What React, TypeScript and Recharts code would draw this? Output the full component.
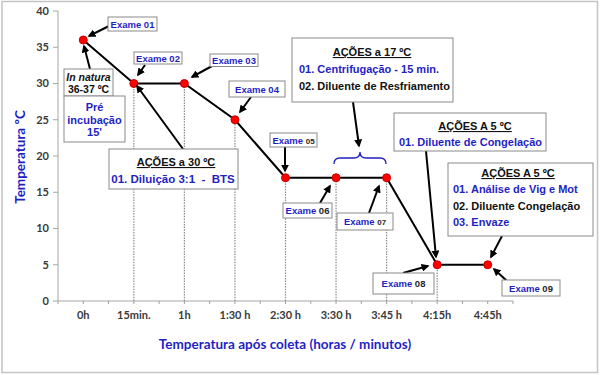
import React from "react";
import { LineChart, Line, XAxis, YAxis, ReferenceLine } from "recharts";

const categories = ["0h", "15min.", "1h", "1:30 h", "2:30 h", "3:30 h", "3:45 h", "4:15h", "4:45h"];
const temperatures = [36, 30, 30, 25, 17, 17, 17, 5, 5];
const yTicks = [0, 5, 10, 15, 20, 25, 30, 35, 40];
const dropLineCategories = ["15min.", "1h", "1:30 h", "2:30 h", "3:30 h", "3:45 h", "4:15h"];

const data = categories.map((c, i) => ({ label: c, temp: temperatures[i] }));

const BLUE = "#1f1fc4";
const DARK = "#262626";
const BOXF = "'Liberation Sans', Arial, sans-serif";
const CAL = "Lato, 'Open Sans', sans-serif";
const X_TICK_SIZE = 3;
const X_TICK_MARGIN = 7;

const XTick = (props: any) => {
  const { x, y, payload, index, width } = props;
  const w = typeof width === "number" && width > 0 ? width : 455;
  const half = w / categories.length / 2;
  const axisY = y - X_TICK_MARGIN - X_TICK_SIZE;
  return (
    <g>
      <line x1={x - half} x2={x - half} y1={axisY} y2={axisY + X_TICK_SIZE} stroke="#a0a0a0" />
      {index === categories.length - 1 && (
        <line x1={x + half} x2={x + half} y1={axisY} y2={axisY + X_TICK_SIZE} stroke="#a0a0a0" />
      )}
      <text x={x} y={y} dy="0.75em" textAnchor="middle" fontFamily={CAL} fontWeight={700} fontSize={11} fill="#3a3a3a">
        {payload.value}
      </text>
    </g>
  );
};

const Box = ({ x, y, w, h }: { x: number; y: number; w: number; h: number }) => (
  <rect x={x} y={y} width={w} height={h} fill="#fff" stroke="#8a8a8a" strokeWidth={1} />
);

const Arrow = ({ x1, y1, x2, y2 }: { x1: number; y1: number; x2: number; y2: number }) => (
  <line x1={x1} y1={y1} x2={x2} y2={y2} stroke="#000" strokeWidth={2} markerEnd="url(#ah)" />
);

const Exame = ({ x, y, w, h, num, numBlue, small }: any) => (
  <g>
    <Box x={x} y={y} w={w} h={h} />
    <text x={x + w / 2} y={y + h / 2 + 3.5} textAnchor="middle" fontFamily={BOXF} fontWeight={700} fontSize={9.5} fill={BLUE}>
      Exame{" "}
      <tspan fill={numBlue ? BLUE : DARK} fontSize={small ? 8 : 9.5}>{num}</tspan>
    </text>
  </g>
);

const T = ({ x, y, children, fill = BLUE, anchor = "start", size = 11, underline = false, italic = false }: any) => (
  <text
    x={x}
    y={y}
    textAnchor={anchor}
    fontFamily={BOXF}
    fontWeight={700}
    fontSize={size}
    fill={fill}
    fontStyle={italic ? "italic" : "normal"}
    style={underline ? { textDecoration: "underline" } : undefined}
  >
    {children}
  </text>
);

const Overlay = () => (
  <svg width={600} height={375} style={{ position: "absolute", left: 0, top: 0, pointerEvents: "none" }}>
    <defs>
      <marker id="ah" viewBox="0 0 10 10" refX="8" refY="5" markerWidth="4" markerHeight="4" orient="auto">
        <path d="M0,0 L10,5 L0,10 z" fill="#000" />
      </marker>
    </defs>
    <rect x={2} y={1.5} width={595.5} height={371} fill="none" stroke="#c4c4c4" strokeWidth={1.5} />

    {/* axis titles */}
    <text x={285} y={349} textAnchor="middle" fontFamily={CAL} fontWeight={700} fontSize={13.5} fill={BLUE}>
      Temperatura após coleta (horas / minutos)
    </text>
    <text
      x={25}
      y={157}
      transform="rotate(-90 25 157)"
      textAnchor="middle"
      fontFamily={CAL}
      fontWeight={700}
      fontSize={13.5}
      fill={BLUE}
    >
      Temperatura ºC
    </text>

    {/* arrows */}
    <Arrow x1={109} y1={26} x2={89} y2={36} />
    <Arrow x1={90} y1={69} x2={84} y2={46} />
    <Arrow x1={145} y1={65} x2={138} y2={75} />
    <Arrow x1={212} y1={66} x2={192} y2={77} />
    <Arrow x1={251} y1={97} x2={240} y2={112} />
    <Arrow x1={183} y1={149} x2={137} y2={86} />
    <Arrow x1={285} y1={147} x2={285} y2={171} />
    <Arrow x1={320} y1={203} x2={330} y2={186} />
    <Arrow x1={369} y1={213} x2={379} y2={186} />
    <Arrow x1={353} y1={102} x2={359} y2={146} />
    <Arrow x1={426} y1={151} x2={436} y2={257} />
    <Arrow x1={502} y1={236} x2={491} y2={257} />
    <Arrow x1={403} y1={273} x2={428} y2={266} />
    <Arrow x1={507} y1={281} x2={494} y2={269} />

    {/* brace */}
    <path
      d="M334,164 Q334,158 340,158 L354,158 Q360,158 360,152 Q360,158 366,158 L380,158 Q386,158 386,164"
      fill="none"
      stroke={BLUE}
      strokeWidth={1.3}
    />

    {/* Exame boxes */}
    <Exame x={108} y={17} w={49} h={14} num="01" numBlue />
    <Exame x={134} y={52} w={48} h={12} num="02" numBlue />
    <Exame x={210} y={54} w={48} h={12.5} num="03" numBlue />
    <Exame x={229} y={81} w={56} h={16} num="04" numBlue />
    <Exame x={270} y={133} w={47} h={14} num="05" small />
    <Exame x={283} y={203} w={49} h={15} num="06" />
    <Exame x={337} y={213} w={56} h={17} num="07" small />
    <Exame x={373} y={273} w={61} h={21} num="08" />
    <Exame x={502} y={280} w={58} h={16} num="09" />

    {/* In natura */}
    <Box x={64} y={69} w={49} h={27} />
    <T x={88.5} y={81} anchor="middle" fill="#111" italic size={10.5}>In natura</T>
    <T x={88.5} y={93} anchor="middle" fill="#111" size={10.5}>36-37 ºC</T>

    {/* Pré incubação */}
    <Box x={64} y={96} w={61} h={46} />
    <T x={94.5} y={111} anchor="middle" size={11}>Pré</T>
    <T x={94.5} y={123.5} anchor="middle" size={11}>incubação</T>
    <T x={94.5} y={136} anchor="middle" size={11}>15'</T>

    {/* Ações 30 */}
    <Box x={109} y={149} w={129} h={40} />
    <T x={176} y={166} anchor="middle" fill="#111" size={11} underline>AÇÕES a 30 ºC</T>
    <T x={173} y={183} anchor="middle" size={11.5}>{"01. Diluição 3:1 \u00A0- \u00A0BTS"}</T>

    {/* Ações 17 */}
    <Box x={292} y={38} w={161} h={64} />
    <T x={372} y={56} anchor="middle" fill="#111" size={11} underline>AÇÕES a 17 ºC</T>
    <T x={299} y={73} size={11}>01. Centrifugação - 15 min.</T>
    <T x={299} y={90} fill="#111" size={11}>02. Diluente de Resfriamento</T>

    {/* Ações 5 (1) */}
    <Box x={394} y={113} w={152} h={38} />
    <T x={475} y={130} anchor="middle" fill="#111" size={11} underline>AÇÕES A 5 ºC</T>
    <T x={399} y={146} size={11}>01. Diluente de Congelação</T>

    {/* Ações 5 (2) */}
    <Box x={448} y={163} w={145} h={73} />
    <T x={518} y={177} anchor="middle" fill="#111" size={11} underline>AÇÕES A 5 ºC</T>
    <T x={453} y={193} size={11}>01. Análise de Vig e Mot</T>
    <T x={453} y={210} fill="#111" size={11}>02. Diluente Congelação</T>
    <T x={453} y={226} size={11}>03. Envaze</T>
  </svg>
);

export default function App() {
  return (
    <div style={{ position: "absolute", left: 0, top: 0, width: 600, height: 375, background: "#fff" }}>
      <LineChart width={600} height={375} data={data} margin={{ top: 11, right: 87, left: 0, bottom: 0 }}>
        <XAxis
          dataKey="label"
          type="category"
          scale="band"
          height={74}
          tickLine={{ stroke: "#a0a0a0" }}
          tickSize={X_TICK_SIZE}
          tickMargin={X_TICK_MARGIN}
          axisLine={{ stroke: "#a6a6a6" }}
          tick={<XTick />}
          interval={0}
        />
        <YAxis
          domain={[0, 40]}
          ticks={yTicks}
          width={58}
          tickSize={5}
          tickMargin={4}
          axisLine={{ stroke: "#a6a6a6" }}
          tickLine={{ stroke: "#a6a6a6" }}
          tick={{ fontFamily: CAL, fontWeight: 700, fontSize: 11, fill: "#3a3a3a" }}
          interval={0}
        />
        {dropLineCategories.map((c) => (
          <ReferenceLine
            key={c}
            segment={[
              { x: c, y: 0 },
              { x: c, y: temperatures[categories.indexOf(c)] },
            ]}
            stroke="#8c8c8c"
            strokeWidth={1.2}
            strokeDasharray="1.5 1.2"
          />
        ))}
        <Line
          type="linear"
          dataKey="temp"
          stroke="#000"
          strokeWidth={2}
          isAnimationActive={false}
          dot={{ r: 4, fill: "#ff0000", stroke: "#c80000", strokeWidth: 1 }}
          activeDot={false}
        />
      </LineChart>
      <Overlay />
    </div>
  );
}
